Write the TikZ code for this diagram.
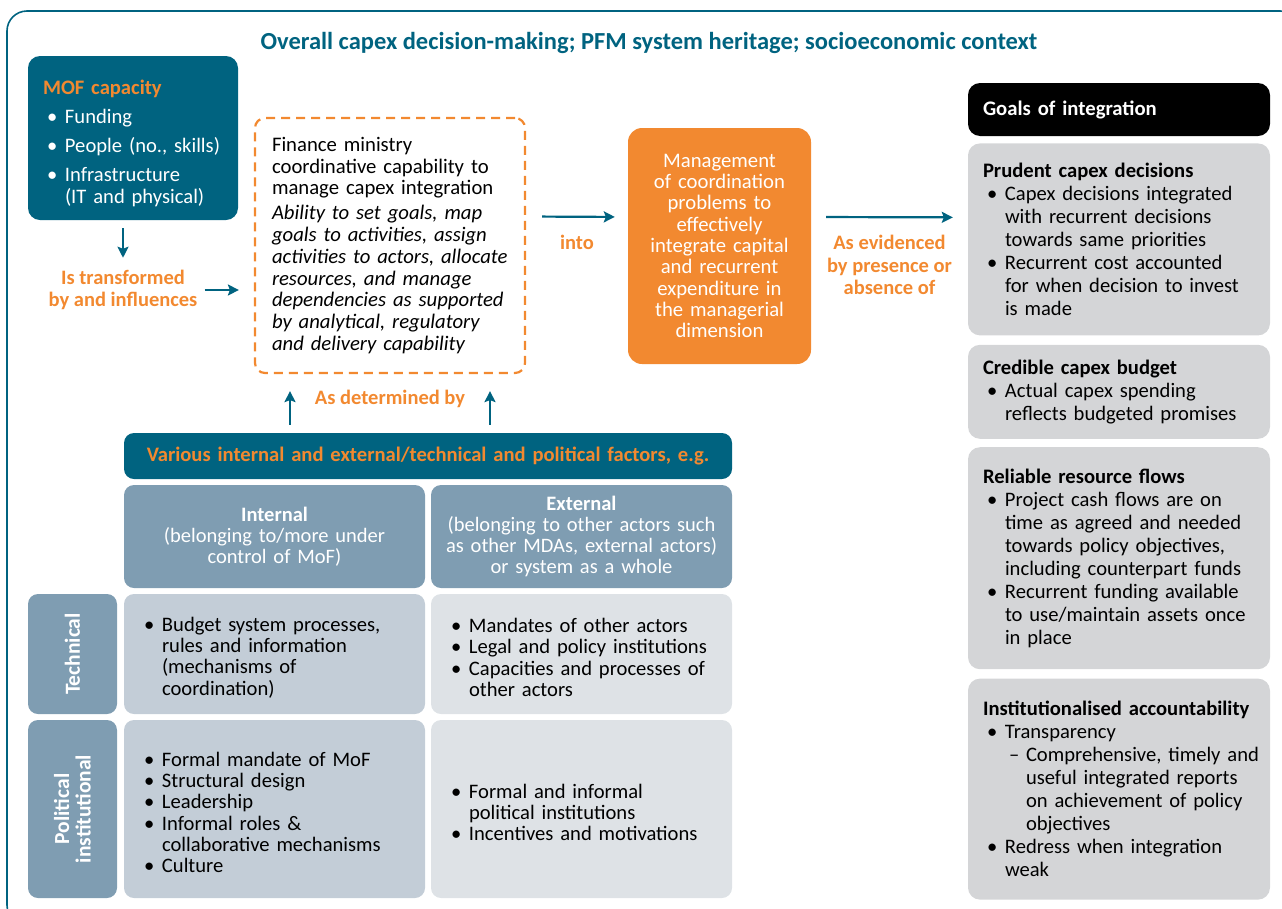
\documentclass[tikz,border=0pt]{standalone}
\usepackage{fontspec}
\setmainfont{Carlito}
\definecolor{PetrolBlue}{RGB}{0,99,128}
\definecolor{CapexOrange}{RGB}{242,137,48}
\definecolor{GoalGrey}{RGB}{212,213,215}
\definecolor{SteelHead}{RGB}{127,157,178}
\definecolor{InnerCell}{RGB}{195,205,215}
\definecolor{OuterCell}{RGB}{222,226,230}
\usetikzlibrary{arrows.meta, positioning}

\newcommand{\bul}[1]{\par\hangindent=22pt\hangafter=1\noindent\hbox to 22pt{\hskip 4pt\textbullet\hfil}#1\par}
\newcommand{\subbul}[1]{\par\hangindent=43pt\hangafter=1\noindent\hbox to 43pt{\hskip 26pt--\hfil}#1\par}

\begin{document}
\begin{tikzpicture}[x=1pt, y=-1pt,
		frame/.style={draw=PetrolBlue, line width=1.6pt, rounded corners=20pt},
		txt/.style={font=\fontsize{20.6}{23}\selectfont},
		small/.style={font=\fontsize{20.6}{21.3}\selectfont},
		lbl/.style={text=CapexOrange, font=\fontsize{20.5}{22.5}\selectfont\bfseries, align=center, inner sep=0pt},
		arr/.style={draw=PetrolBlue, line width=2.2pt, -{Stealth[length=11pt, width=11pt, inset=2pt]}},
		mofbox/.style={fill=PetrolBlue, rounded corners=12pt, text=white, font=\fontsize{20.6}{22}\selectfont, align=left,
			text width=180pt, inner xsep=15pt, minimum height=164pt},
		capbox/.style={draw=CapexOrange, line width=2.2pt, dash pattern=on 9pt off 6pt, rounded corners=10pt,
			font=\fontsize{20.7}{21.8}\selectfont, align=left, text width=236pt, inner xsep=17pt, minimum height=255pt},
		mgmtbox/.style={fill=CapexOrange, text=white, rounded corners=14pt, font=\fontsize{20.7}{21.3}\selectfont,
			align=center, text width=165pt, inner xsep=9pt, minimum height=236pt},
		goalhead/.style={fill=black, text=white, rounded corners=12pt, font=\fontsize{20.7}{23}\selectfont\bfseries,
			align=left, text width=272pt, inner xsep=15pt, minimum height=53pt},
		goalbox/.style={fill=GoalGrey, rounded corners=12pt, txt, align=left, text width=272pt, inner xsep=15pt},
		factors/.style={fill=PetrolBlue, text=CapexOrange, rounded corners=10pt, font=\fontsize{20.6}{23}\selectfont\bfseries,
			align=center, text width=592pt, inner xsep=8pt, minimum height=46pt},
		headbox/.style={fill=SteelHead, text=white, rounded corners=10pt, font=\fontsize{20.5}{20.8}\selectfont,
			align=center, text width=285pt, inner xsep=8pt, minimum height=103pt},
		sidebox/.style={fill=SteelHead, text=white, rounded corners=10pt, font=\fontsize{21.5}{21.5}\selectfont\bfseries,
			align=center, rotate=90, minimum height=89pt, inner sep=0pt},
		cellbox/.style={rounded corners=10pt, small, align=left, text width=269pt, inner xsep=16pt}]
	\useasboundingbox (0,0) rectangle (1282,908);
	\draw[frame] (7,11) rectangle (1300,925);
	\node[text=PetrolBlue, font=\fontsize{24.5}{28}\selectfont\bfseries] (title) at (649,43)
		{Overall capex decision-making; PFM system heritage; socioeconomic context};

	\node[mofbox] (mof) at (133,138) {\setlength{\parskip}{7pt}{\color{CapexOrange}\bfseries\rule{0pt}{25pt}MOF capacity}
		\bul{Funding}\bul{People (no., skills)}\bul{Infrastructure\newline(IT and physical)}};
	\node[lbl] (transf) at (123,290) {Is transformed\\by and influences};
	\node[capbox] (fin) at (390,245.5) {Finance ministry\\coordinative capability to\\manage capex integration\par\vspace{3pt}
		{\itshape Ability to set goals, map\\goals to activities, assign\\activities to actors, allocate\\resources, and manage\\dependencies as supported\\by analytical, regulatory\\and delivery capability}};
	\node[mgmtbox] (mgmt) at (719.5,246) {Management\\of coordination\\problems to\\effectively\\integrate capital\\and recurrent\\expenditure in\\the managerial\\dimension};

	\node[goalhead] (goals) at (1119,109.5) {Goals of integration};
	\node[goalbox, minimum height=192pt, below=7pt of goals] (prudent) {{\bfseries Prudent capex decisions}
		\bul{Capex decisions integrated\newline with recurrent decisions\newline towards same priorities}
		\bul{Recurrent cost accounted\newline for when decision to invest\newline is made}};
	\node[goalbox, minimum height=94pt, below=9pt of prudent] (credible) {{\bfseries Credible capex budget}
		\bul{Actual capex spending\newline reflects budgeted promises}};
	\node[goalbox, minimum height=222pt, below=8pt of credible] (reliable) {{\bfseries Reliable resource flows}
		\bul{Project cash flows are on\newline time as agreed and needed\newline towards policy objectives,\newline including counterpart funds}
		\bul{Recurrent funding available\newline to use/maintain assets once\newline in place}};
	\node[goalbox, minimum height=221pt, below=9pt of reliable] (account) {{\bfseries Institutionalised accountability}
		\bul{Transparency}
		\subbul{Comprehensive,~timely~and\newline useful integrated reports\newline on achievement of policy\newline objectives}
		\bul{Redress when integration\newline weak}};

	\node[factors] (various) at (428,456) {Various internal and external/technical and political factors, e.g.};
	\node[headbox] (internal) at (274.5,536.5) {{\bfseries Internal}\\(belonging to/more under\\control of MoF)};
	\node[headbox] (external) at (581.5,536.5) {{\bfseries External}\\(belonging to other actors such\\as other MDAs, external actors)\\or system as a whole};
	\node[sidebox, minimum width=120pt] (tech) at (72.5,654) {Technical};
	\node[sidebox, minimum width=178pt] (polit) at (72.5,809) {Political\\institutional};
	\node[cellbox, fill=InnerCell, minimum height=120pt] (techin) at (274.5,654)
		{\bul{Budget system processes,\newline rules and information\newline (mechanisms of\newline coordination)}};
	\node[cellbox, fill=OuterCell, minimum height=120pt] (techout) at (581.5,654)
		{\bul{Mandates of other actors}\bul{Legal and policy institutions}\bul{Capacities and processes of\newline other actors}};
	\node[cellbox, fill=InnerCell, minimum height=178pt] (politin) at (274.5,809)
		{\bul{Formal mandate of MoF}\bul{Structural design}\bul{Leadership}\bul{Informal roles \&\newline collaborative mechanisms}\bul{Culture}};
	\node[cellbox, fill=OuterCell, minimum height=178pt] (politout) at (581.5,809)
		{\bul{Formal and informal\newline political institutions}\bul{Incentives and motivations}};

	\coordinate (upleft) at ([xshift=-100pt]fin.south);
	\coordinate (upright) at ([xshift=100pt]fin.south);
	\node[lbl] (determ) at ([yshift=-25pt]fin.south) {As determined by};

	\draw[arr, shorten <=8pt, shorten >=12pt] (transf |- mof.south) -- (transf);
	\draw[arr, shorten <=7pt, shorten >=15pt] (transf.east) -- (transf.east -| fin.west);
	\draw[arr, shorten <=8pt, shorten >=17pt] (upleft |- various.north) -- (upleft);
	\draw[arr, shorten <=8pt, shorten >=17pt] (upright |- various.north) -- (upright);
	\draw[arr, shorten <=16pt, shorten >=13pt] ([yshift=29pt]fin.east) -- node[lbl, below=17pt] (into) {into} ([yshift=29pt]mgmt.west);
	\draw[arr, shorten <=15pt, shorten >=15pt] ([yshift=29pt]mgmt.east) -- node[lbl, below=17pt] (evid) {As evidenced\\by presence or\\absence of} ([yshift=22pt]prudent.west);
\end{tikzpicture}
\end{document}
